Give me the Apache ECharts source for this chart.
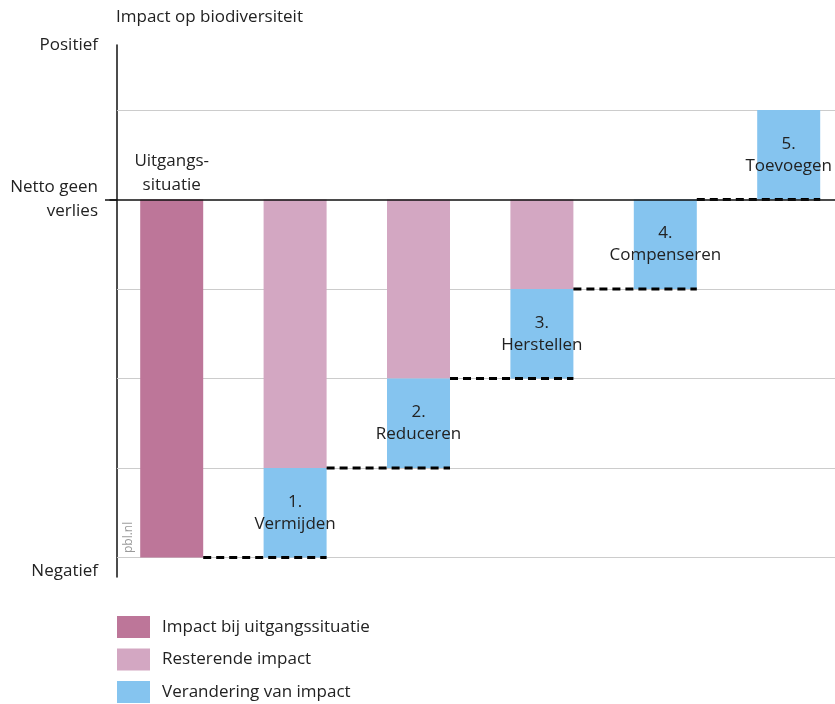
<!DOCTYPE html>
<html>
<head>
<meta charset="utf-8">
<script src="https://cdn.jsdelivr.net/npm/echarts@6/dist/echarts.min.js"></script>
<style>html,body{margin:0;padding:0;background:#fff}#c{width:835px;height:704px}</style>
</head>
<body>
<div id="c"></div>
<script>
// ---- data ----
const categories = ['Uitgangssituatie', 'Vermijden', 'Reduceren', 'Herstellen', 'Compenseren', 'Toevoegen'];
const initialImpact = [-4, '-', '-', '-', '-', '-'];
const remainingImpact = ['-', -3, -2, -1, '-', '-'];
const changeImpact = ['-', -1, -1, -1, -1, 1];
const topLabels = ['Uitgangs-\nsituatie', '', '', '', '', ''];
const stepLabels = ['', '1.\nVermijden', '2.\nReduceren', '3.\nHerstellen', '4.\nCompenseren', '5.\nToevoegen'];
const connectorLevels = [null, -4, -3, -2, -1, 0];
const gridValues = [1, -1, -2, -3, -4];
const yLabelValues = [1.726, 0, -4.15];
const yLabelTexts = ['Positief', 'Netto geen\nverlies', 'Negatief'];
const seriesNames = ['Impact bij uitgangssituatie', 'Resterende impact', 'Verandering van impact'];
const colors = ['#bd7699', '#d3a7c2', '#85c4ef'];

const FONT = 'Open Sans';
const FS = 17;
const BAR_W = 63;
const AXIS_X = 117; // pixel position of the y axis line

const chart = echarts.init(document.getElementById('c'));
chart.setOption({
  animation: false,
  textStyle: { fontFamily: FONT },
  title: {
    text: 'Impact op biodiversiteit',
    left: 116, top: 9, padding: 0,
    textStyle: { fontFamily: FONT, fontSize: FS, fontWeight: 'normal', color: '#222' }
  },
  legend: {
    data: seriesNames,
    orient: 'vertical',
    left: 117, top: 616, padding: 0,
    itemWidth: 33, itemHeight: 22, itemGap: 10.5,
    icon: 'rect',
    textStyle: { fontFamily: FONT, fontSize: FS, color: '#222', padding: [0, 0, 0, 7] },
    selectedMode: false
  },
  grid: { left: 110, width: 740.4, top: 45, height: 532, containLabel: false, outerBoundsMode: 'none' },
  xAxis: {
    type: 'category', data: categories,
    axisLine: { show: true, onZero: true, lineStyle: { color: '#111', width: 1.5 } },
    axisTick: { show: false }, axisLabel: { show: false }, splitLine: { show: false },
    z: 5
  },
  yAxis: {
    type: 'value', min: -4.218, max: 1.726, offset: -(AXIS_X - 110),
    axisLine: { show: true, onZero: false, lineStyle: { color: '#111', width: 1.5 } },
    axisTick: { show: true, customValues: [0], length: 12, lineStyle: { color: '#111', width: 1.5 } },
    axisLabel: {
      customValues: yLabelValues, margin: 19,
      fontFamily: FONT, fontSize: FS, color: '#222', lineHeight: 24,
      formatter: v => { const i = yLabelValues.findIndex(x => Math.abs(x - v) < 1e-6); return i >= 0 ? yLabelTexts[i] : ''; }
    },
    splitLine: { show: false }
  },
  graphic: [{
    type: 'text', x: 123, y: 553, rotation: Math.PI / 2,
    style: { text: 'pbl.nl', fill: '#9a9a9a', fontSize: 12, fontFamily: FONT }
  }],
  series: [
    {
      type: 'line', data: [], z: 1, silent: true,
      markLine: {
        z: 1, silent: true, symbol: 'none', label: { show: false },
        lineStyle: { color: '#cccccc', width: 1, type: 'solid' },
        data: gridValues.map(v => [{ yAxis: v, x: AXIS_X }, { yAxis: v, x: '100%' }])
      }
    },
    {
      name: seriesNames[0], type: 'bar', stack: 's', barWidth: BAR_W, z: 2,
      itemStyle: { color: colors[0] },
      data: initialImpact,
      label: {
        show: true, position: 'top', distance: 2,
        fontFamily: FONT, fontSize: FS, color: '#222', lineHeight: 24,
        formatter: p => topLabels[p.dataIndex]
      }
    },
    {
      name: seriesNames[1], type: 'bar', stack: 's', barWidth: BAR_W, z: 2,
      itemStyle: { color: colors[1] },
      data: remainingImpact
    },
    {
      name: seriesNames[2], type: 'bar', stack: 's', barWidth: BAR_W, z: 2,
      itemStyle: { color: colors[2] },
      data: changeImpact,
      label: {
        show: true, position: 'inside',
        fontFamily: FONT, fontSize: FS, color: '#222', lineHeight: 22,
        formatter: p => stepLabels[p.dataIndex]
      }
    },
    {
      type: 'custom', z: 4, silent: true,
      data: connectorLevels.map((v, i) => [i, v]).filter(d => d[1] !== null),
      renderItem: (params, api) => {
        const i = api.value(0), lvl = api.value(1);
        const a = api.coord([i - 1, lvl]);
        const b = api.coord([i, lvl]);
        return {
          type: 'line',
          shape: { x1: a[0] + BAR_W / 2, y1: a[1], x2: b[0] + BAR_W / 2, y2: b[1] },
          style: { stroke: '#000', lineWidth: 3, lineDash: [8, 5] }
        };
      }
    }
  ]
});
</script>
</body>
</html>
